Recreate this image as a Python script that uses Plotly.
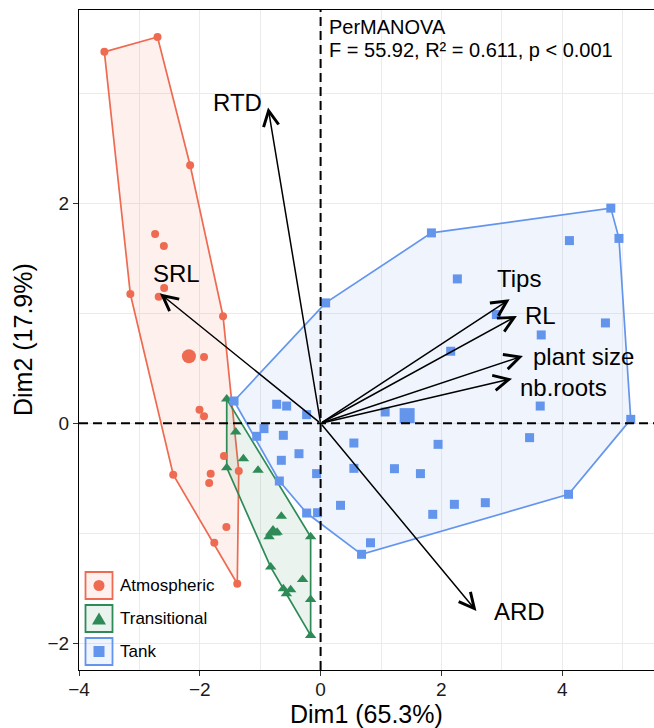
import plotly.graph_objects as go

# ---------------- data ----------------
groups = ["Atmospheric", "Transitional", "Tank"]

atm_x = [-3.58, -2.70, -2.16, -2.74, -2.595, -2.59, -2.68, -3.15, -1.615, -1.93,
         -2.005, -1.93, -2.44, -1.60, -1.355, -1.82, -1.845, -1.56, -1.76, -1.38]
atm_y = [3.375, 3.51, 2.345, 1.72, 1.61, 1.23, 1.15, 1.175, 0.973, 0.603,
         0.124, 0.064, -0.467, -0.297, -0.433, -0.457, -0.543, -0.943, -1.085, -1.457]

tra_x = [-1.554, -1.405, -1.278, -1.554, -1.036, -0.65, -0.854, -0.72, -0.165, -0.826,
         -0.298, -0.617, -0.496, -0.567, -0.165, -0.165]
tra_y = [0.22, -0.079, -0.321, -0.403, -0.427, -0.845, -1.03, -0.99, -1.03, -1.306,
         -1.418, -1.503, -1.512, -1.548, -1.60, -1.927]

tank_x = [4.805, 4.94, 4.12, 1.835, 0.083, 2.264, 2.91, 4.716, 3.653, 2.154,
          3.636, 1.069, 5.135, 0.551, 1.945, 3.46, 0.551, 1.223, 1.653, -0.066,
          4.105, 0.33, 2.215, 2.727, 1.857, -0.231, -0.05, 0.826, 0.678, -1.433,
          -0.727, -0.562, -0.231, -0.937, -1.058, -0.617, -0.358, -0.65, -0.683]
tank_y = [1.955, 1.68, 1.66, 1.73, 1.094, 1.312, 0.988, 0.912, 0.803, 0.655,
          0.157, 0.103, 0.036, -0.179, -0.191, -0.13, -0.409, -0.412, -0.457, -0.457,
          -0.645, -0.745, -0.736, -0.721, -0.827, -0.815, -0.812, -1.085, -1.19, 0.203,
          0.173, 0.157, 0.079, -0.048, -0.118, -0.109, -0.276, -0.336, -0.524]

centroid_x = [-2.18, -0.788, 1.433]
centroid_y = [0.61, -0.988, 0.07]

var_names = ["RTD", "SRL", "Tips", "RL", "plant size", "nb.roots", "ARD"]
var_x = [-0.87, -2.66, 3.13, 3.25, 3.35, 3.17, 2.58]
var_y = [2.87, 1.18, 1.127, 0.976, 0.612, 0.406, -1.706]
label_x = [-1.372, -2.38, 3.28, 3.64, 4.35, 4.02, 3.285]
label_y = [2.918, 1.36, 1.315, 0.98, 0.603, 0.33, -1.706]

x_ticks = [-4, -2, 0, 2, 4]
y_ticks = [-2, 0, 2]
x_title = "Dim1 (65.3%)"
y_title = "Dim2 (17.9%)"
stat_title = "PerMANOVA"
stat_text = "F = 55.92, R² = 0.611, p < 0.001"

# ---------------- style ----------------
colors = ["#EE6A50", "#2E8B57", "#6495ED"]
symbols = ["circle", "triangle-up", "square"]
pt_sizes = [8, 10, 9]
cen_sizes = [14, 14, 15]
FONT = "Liberation Sans, Arial, sans-serif"
FILL_A = 0.1

W, H = 654, 728
ML, MR, MT, MB = 79, 0, 10, 58
PW, PH = W - ML - MR, H - MT - MB


def rgba(hexc, a):
    h = hexc.lstrip("#")
    r, g, b = int(h[0:2], 16), int(h[2:4], 16), int(h[4:6], 16)
    return f"rgba({r},{g},{b},{a})"


def hull(xs, ys):
    pts = sorted(set(zip(xs, ys)))
    if len(pts) <= 2:
        return pts

    def cross(o, a, b):
        return (a[0] - o[0]) * (b[1] - o[1]) - (a[1] - o[1]) * (b[0] - o[0])

    lower, upper = [], []
    for p in pts:
        while len(lower) >= 2 and cross(lower[-2], lower[-1], p) <= 0:
            lower.pop()
        lower.append(p)
    for p in reversed(pts):
        while len(upper) >= 2 and cross(upper[-2], upper[-1], p) <= 0:
            upper.pop()
        upper.append(p)
    return lower[:-1] + upper[:-1]


def pxx(px):
    return (px - ML) / PW


def pyy(py):
    return (H - MB - py) / PH


data_x = [atm_x, tra_x, tank_x]
data_y = [atm_y, tra_y, tank_y]

fig = go.Figure()

# hull polygons
for i, g in enumerate(groups):
    hp = hull(data_x[i], data_y[i])
    hx = [p[0] for p in hp] + [hp[0][0]]
    hy = [p[1] for p in hp] + [hp[0][1]]
    fig.add_trace(go.Scatter(
        x=hx, y=hy, mode="lines", fill="toself",
        fillcolor=rgba(colors[i], FILL_A),
        line=dict(color=colors[i], width=1.7),
        hoverinfo="skip", showlegend=False, name=g))

# points
for i, g in enumerate(groups):
    fig.add_trace(go.Scatter(
        x=data_x[i], y=data_y[i], mode="markers",
        marker=dict(color=colors[i], symbol=symbols[i], size=pt_sizes[i],
                    line=dict(width=0)),
        showlegend=False, name=g))
    fig.add_trace(go.Scatter(
        x=[centroid_x[i]], y=[centroid_y[i]], mode="markers",
        marker=dict(color=colors[i], symbol=symbols[i], size=cen_sizes[i],
                    line=dict(width=0)),
        showlegend=False, name=g + " centroid"))

shapes = []
# reference dashed lines
shapes.append(dict(type="line", xref="x", yref="paper", x0=0, x1=0, y0=0, y1=1,
                   line=dict(color="black", width=2, dash="9px,5px"), layer="above"))
shapes.append(dict(type="line", xref="paper", yref="y", x0=0, x1=1, y0=0, y1=0,
                   line=dict(color="black", width=2, dash="9px,5px"), layer="above"))

annotations = []
# variable arrows
for i, v in enumerate(var_names):
    annotations.append(dict(
        x=var_x[i], y=var_y[i], ax=0, ay=0, xref="x", yref="y", axref="x", ayref="y",
        showarrow=True, arrowhead=5, arrowsize=2.0, arrowwidth=1.5, arrowcolor="black",
        standoff=0, startstandoff=0, text=""))
    annotations.append(dict(
        x=label_x[i], y=label_y[i], xref="x", yref="y", text=v, showarrow=False,
        xanchor="center", yanchor="middle", font=dict(family=FONT, size=24, color="black")))

# PerMANOVA text
annotations.append(dict(x=pxx(327), y=pyy(27), xref="paper", yref="paper", text=stat_title,
                        showarrow=False, xanchor="left", yanchor="middle",
                        font=dict(family=FONT, size=20, color="black")))
annotations.append(dict(x=pxx(327), y=pyy(50), xref="paper", yref="paper", text=stat_text,
                        showarrow=False, xanchor="left", yanchor="middle",
                        font=dict(family=FONT, size=20, color="black")))

# axis titles
annotations.append(dict(x=0.5, y=pyy(714), xref="paper", yref="paper", text=x_title,
                        showarrow=False, xanchor="center", yanchor="middle",
                        font=dict(family=FONT, size=25, color="black")))
annotations.append(dict(x=pxx(23), y=0.5, xref="paper", yref="paper", text=y_title,
                        showarrow=False, xanchor="center", yanchor="middle", textangle=-90,
                        font=dict(family=FONT, size=25, color="black")))

# custom legend (ggplot-style keys)
key_top = [572, 605, 638]
kx0, kx1 = 85.5, 112.5
kh = 27
for i, g in enumerate(groups):
    y0 = key_top[i]
    cy = y0 + kh / 2
    cx = (kx0 + kx1) / 2
    shapes.append(dict(type="rect", xref="paper", yref="paper",
                       x0=pxx(kx0), x1=pxx(kx1), y0=pyy(y0 + kh), y1=pyy(y0),
                       line=dict(color=colors[i], width=1.8),
                       fillcolor=rgba(colors[i], FILL_A), layer="above"))
    if symbols[i] == "circle":
        r = 5.5
        shapes.append(dict(type="circle", xref="paper", yref="paper",
                           x0=pxx(cx - r), x1=pxx(cx + r), y0=pyy(cy + r), y1=pyy(cy - r),
                           line=dict(width=0), fillcolor=colors[i], layer="above"))
    elif symbols[i] == "square":
        r = 5.5
        shapes.append(dict(type="rect", xref="paper", yref="paper",
                           x0=pxx(cx - r), x1=pxx(cx + r), y0=pyy(cy + r), y1=pyy(cy - r),
                           line=dict(width=0), fillcolor=colors[i], layer="above"))
    else:
        hw, hh = 7, 6
        path = (f"M {pxx(cx - hw)} {pyy(cy + hh)} L {pxx(cx + hw)} {pyy(cy + hh)} "
                f"L {pxx(cx)} {pyy(cy - hh)} Z")
        shapes.append(dict(type="path", xref="paper", yref="paper", path=path,
                           line=dict(width=0), fillcolor=colors[i], layer="above"))
    annotations.append(dict(x=pxx(118), y=pyy(cy), xref="paper", yref="paper", text=g,
                            showarrow=False, xanchor="left", yanchor="middle",
                            font=dict(family=FONT, size=17, color="black")))

axis_common = dict(
    showline=True, linecolor="black", linewidth=1.2,
    ticks="outside", ticklen=5, tickwidth=1.2, tickcolor="#333333",
    showgrid=True, gridcolor="#EBEBEB", gridwidth=1.2,
    zeroline=False, tickfont=dict(family=FONT, size=19, color="#1a1a1a"),
)

fig.update_layout(
    width=W, height=H,
    margin=dict(l=ML, r=MR, t=MT, b=MB, autoexpand=False),
    paper_bgcolor="white", plot_bgcolor="white",
    showlegend=False,
    xaxis=dict(range=[-4.0, 5.52], tickvals=x_ticks, mirror=True, ticklabelstandoff=-3,
               minor=dict(dtick=1, tick0=0, showgrid=True, gridcolor="#EBEBEB", gridwidth=0.8,
                          ticklen=0),
               **axis_common),
    yaxis=dict(range=[-2.241, 3.755], tickvals=y_ticks, mirror=False,
               minor=dict(dtick=1, tick0=0, showgrid=True, gridcolor="#EBEBEB", gridwidth=0.8,
                          ticklen=0),
               **axis_common),
    shapes=shapes,
    annotations=annotations,
    font=dict(family=FONT),
)

fig.write_html(
    "out.html",
    config={"displayModeBar": False},
    post_script="document.body.style.margin='0';document.body.style.padding='0';"
                "document.documentElement.style.overflow='hidden';",
)
